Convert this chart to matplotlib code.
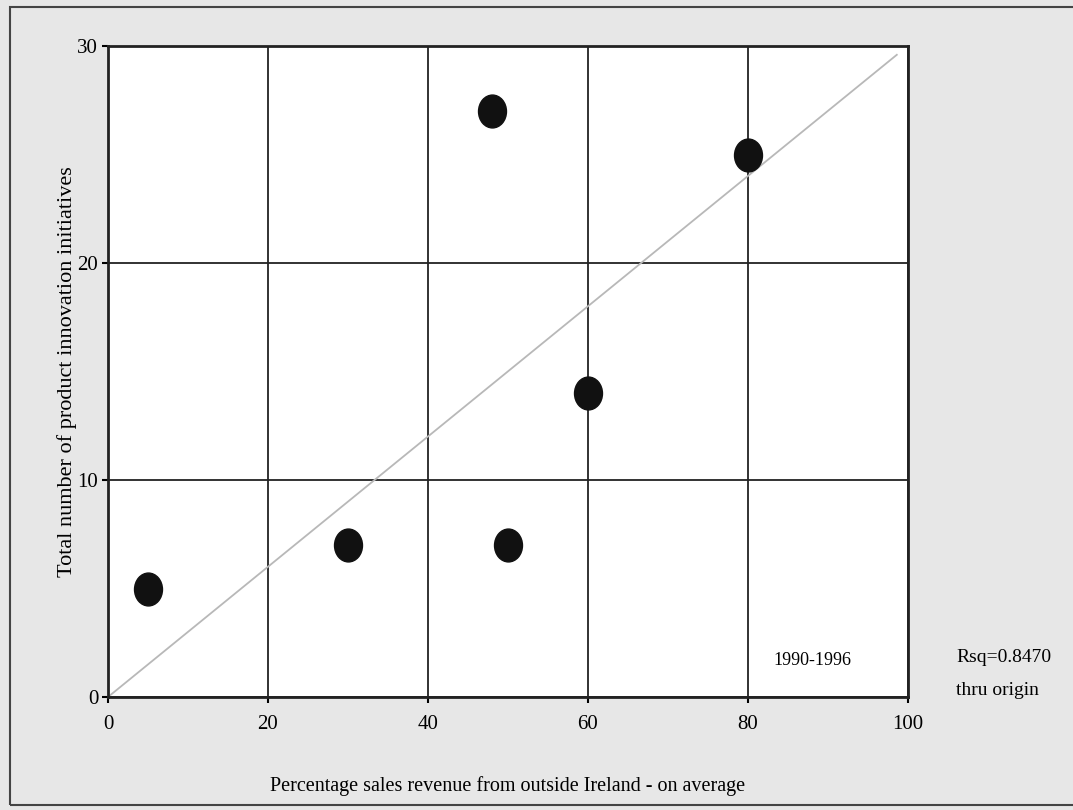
import matplotlib.pyplot as plt
from matplotlib.patches import Rectangle
from matplotlib.path import Path
from matplotlib.transforms import Affine2D

# data
sales_pct = [5, 30, 48, 50, 60, 80]
initiatives = [5, 7, 27, 7, 14, 25]
x_ticks = [0, 20, 40, 60, 80, 100]
y_ticks = [0, 10, 20, 30]
rsq_text = 'Rsq=0.8470'
period = '1990-1996'

plt.rcParams['font.family'] = ['Liberation Serif', 'DejaVu Serif']

fig = plt.figure(figsize=(10.73, 8.10), dpi=100)
fig.patch.set_facecolor('#e7e7e7')
fig.patches.append(Rectangle((10/1073, 5/810), 1.0, 798/810, transform=fig.transFigure,
                             fill=False, edgecolor='#444444', linewidth=1.5))

ax = fig.add_axes([108/1073, 1 - 697/810, 800/1073, 651/810])
ax.set_facecolor('white')

# regression thru origin
sxy = sum(a * b for a, b in zip(sales_pct, initiatives))
sxx = sum(a * a for a in sales_pct)
slope = sxy / sxx
ax.plot([0, 98.6], [0, 98.6 * slope], color='#b8b8b8', lw=1.3, zorder=2)

# slightly tall dots, like the scan
dot = Path.unit_circle().transformed(Affine2D().scale(0.85, 1.0))
ax.scatter(sales_pct, initiatives, s=560, marker=dot, color='#111111', zorder=3)

ax.set_xlim(0, 100)
ax.set_ylim(0, 30)
ax.set_xticks(x_ticks)
ax.set_yticks(y_ticks)
ax.grid(True, color='#222222', lw=1.3)
ax.set_axisbelow(True)
for s in ax.spines.values():
    s.set_color('#222222')
    s.set_linewidth(2)
ax.tick_params(length=4, width=1.5, labelsize=15)
ax.tick_params(axis='y', pad=3)
ax.tick_params(axis='x', pad=9)

ax.set_xlabel('Percentage sales revenue from outside Ireland - on average', fontsize=14.5, labelpad=30)
ax.set_ylabel('Total number of product innovation initiatives', fontsize=16, labelpad=0)

ax.text(88, 1.7, period, fontsize=13, ha='center', va='center')
ax.text(1.06, 0.06, rsq_text, transform=ax.transAxes, fontsize=14, ha='left', va='center')
ax.text(1.06, 0.01, 'thru origin', transform=ax.transAxes, fontsize=14, ha='left', va='center')

fig.savefig('out.png', dpi=100, facecolor=fig.get_facecolor())
